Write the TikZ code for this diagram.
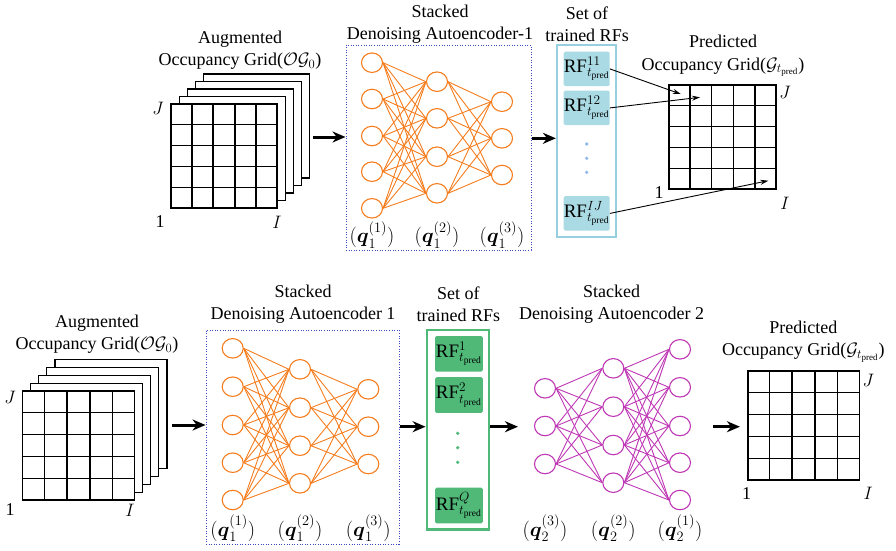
\documentclass[tikz,border=0pt]{standalone}
\usepackage{fix-cm}
\usepackage{amsmath}
\usepackage{amsfonts}
\usepackage{amssymb}
\usepackage{fontspec}
\setmainfont{Liberation Serif}
\usetikzlibrary{arrows.meta,calc,shapes.geometric}

\definecolor{nnorange}{RGB}{245,125,30}
\definecolor{nnpurple}{RGB}{190,55,180}
\definecolor{rfblue}{RGB}{170,218,228}
\definecolor{rfblueline}{RGB}{150,208,224}
\definecolor{rfgreen}{RGB}{80,185,120}
\definecolor{aeblue}{RGB}{60,70,200}

\begin{document}
\begin{tikzpicture}[x=1pt,y=-1pt,
  txt/.style={font=\fontsize{18}{22.5}\selectfont, align=center, inner sep=0pt},
  qlbl/.style={font=\fontsize{20.5}{22}\selectfont, inner sep=0pt},
  neuron/.style={ellipse, draw=#1, line width=1.1pt, minimum width=21pt, minimum height=19.5pt, inner sep=0pt},
  syn/.style={draw=#1, line width=0.9pt},
  sheet/.style={draw, fill=white, line width=1.2pt, inner sep=0pt},
  gridline/.style={line width=1.6pt},
  aebox/.style={draw=aeblue, line width=1pt, dash pattern=on 1pt off 1.6pt, inner sep=0pt},
  rfset/.style={draw=#1, line width=2.2pt, inner sep=0pt},
  rf/.style={fill=#1, rounded corners=1.5pt, minimum width=46pt, minimum height=34.5pt, inner sep=0pt, font=\fontsize{19}{20}\selectfont},
  flow/.style={-{Stealth[length=13pt,width=11pt]}, line width=3pt},
  pick/.style={-{Stealth[length=8pt,width=5pt]}, line width=0.9pt}]
\useasboundingbox (0,0) rectangle (896,550);

% top row
\node[txt] (ogttitle) at (240,50) {Augmented\\Occupancy Grid($\mathcal{O}\mathcal{G}_0$)};
\foreach \k in {4,3,2,1}
  \node[sheet, minimum width=106pt, minimum height=104pt] (ogt\k) at ({224+8.2*\k},{156-7.5*\k}) {};
\node[sheet, gridline, minimum width=106pt, minimum height=104pt] (ogt) at (224,156) {};
\node[txt] (ogtj) at (158,108) {$J$};
\node[txt] (ogt1) at (160,222) {1};
\node[txt] (ogti) at (277,222) {$I$};

\node[txt] (taetitle) at (440,24) {Stacked\\Denoising Autoencoder-1};
\node[aebox, minimum width=185pt, minimum height=205pt] (tae) at (438.5,147.5) {};
\foreach \y [count=\i] in {62.7,99,136,171.7,208.3}
  \node[neuron=nnorange] (ta\i) at (372,\y) {};
\foreach \y [count=\i] in {81.7,118.3,156.7,193.3}
  \node[neuron=nnorange] (tb\i) at (437,\y) {};
\foreach \y [count=\i] in {101.7,138.3,175}
  \node[neuron=nnorange] (tc\i) at (502,\y) {};
\foreach \i in {1,...,5} \foreach \j in {1,...,4}
  \draw[syn=nnorange] (ta\i.east) -- (tb\j.west);
\foreach \i in {1,...,4} \foreach \j in {1,...,3}
  \draw[syn=nnorange] (tb\i.east) -- (tc\j.west);
\node[qlbl] (tq1) at (372,235) {$(\boldsymbol{q}_1^{(1)})$};
\node[qlbl] (tq2) at (437,235) {$(\boldsymbol{q}_1^{(2)})$};
\node[qlbl] (tq3) at (502,235) {$(\boldsymbol{q}_1^{(3)})$};

\node[txt] (trftitle) at (587,24) {Set of\\trained RFs};
\node[rfset=rfblueline, minimum width=59pt, minimum height=192pt] (trf) at (586.5,141) {};
\node[rf=rfblue] (rf11) at (586.7,68.9) {RF$^{11}_{t_{\text{pred}}}$};
\node[rf=rfblue] (rf12) at (586.7,107.9) {RF$^{12}_{t_{\text{pred}}}$};
\node[rf=rfblue] (rfij) at (586.7,213.4) {RF$^{IJ}_{t_{\text{pred}}}$};
\foreach \y in {144,158.3,172.3}
  \fill[rfblue!85!blue] (586.7,\y) circle (1.8);

\node[txt] (pgttitle) at (723,56) {Predicted\\Occupancy Grid($\mathcal{G}_{t_{\text{pred}}}$)};
\node[sheet, gridline, minimum width=107pt, minimum height=104pt] (pgt) at (722.5,137) {};
\node[txt] (pgtj) at (785,92) {$J$};
\node[txt] (pgt1) at (659,193) {1};
\node[txt] (pgti) at (785,203) {$I$};

% bottom row
\node[txt] (ogbtitle) at (97,334) {Augmented\\Occupancy Grid($\mathcal{O}\mathcal{G}_0$)};
\foreach \k in {4,3,2,1}
  \node[sheet, minimum width=112pt, minimum height=109pt] (ogb\k) at ({78.5+8.1*\k},{445.5-7.8*\k}) {};
\node[sheet, gridline, minimum width=112pt, minimum height=109pt] (ogb) at (78.5,445.5) {};
\node[txt] (ogbj) at (10,397) {$J$};
\node[txt] (ogb1) at (10,510) {1};
\node[txt] (ogbi) at (130,510) {$I$};

\node[txt] (baetitle) at (303,304) {Stacked\\Denoising Autoencoder 1};
\node[aebox, minimum width=193pt, minimum height=214pt] (bae) at (302.5,437) {};
\foreach \y [count=\i] in {348.3,386.7,425,462.7,500}
  \node[neuron=nnorange] (ba\i) at (232.7,\y) {};
\foreach \y [count=\i] in {369.3,407.7,445.7,483.3}
  \node[neuron=nnorange] (bb\i) at (300,\y) {};
\foreach \y [count=\i] in {389.3,426.7,464}
  \node[neuron=nnorange] (bc\i) at (368.3,\y) {};
\foreach \i in {1,...,5} \foreach \j in {1,...,4}
  \draw[syn=nnorange] (ba\i.east) -- (bb\j.west);
\foreach \i in {1,...,4} \foreach \j in {1,...,3}
  \draw[syn=nnorange] (bb\i.east) -- (bc\j.west);
\node[qlbl] (bq1) at (232.7,528.3) {$(\boldsymbol{q}_1^{(1)})$};
\node[qlbl] (bq2) at (300,528.3) {$(\boldsymbol{q}_1^{(2)})$};
\node[qlbl] (bq3) at (368.3,528.3) {$(\boldsymbol{q}_1^{(3)})$};

\node[txt] (brftitle) at (458.3,304) {Set of\\trained RFs};
\node[rfset=rfgreen, minimum width=62.6pt, minimum height=199.5pt] (brf) at (458,429.8) {};
\node[rf=rfgreen, minimum width=47.7pt, minimum height=35.6pt] (rf1) at (458.9,353.9) {RF$^{1}_{t_{\text{pred}}}$};
\node[rf=rfgreen, minimum width=47.7pt, minimum height=35.6pt] (rf2) at (458.9,395) {RF$^{2}_{t_{\text{pred}}}$};
\node[rf=rfgreen, minimum width=47.7pt, minimum height=35.6pt] (rfq) at (458.9,505.5) {RF$^{Q}_{t_{\text{pred}}}$};
\foreach \y in {433.3,447.7,462.3}
  \fill[rfgreen] (457.7,\y) circle (1.8);

\node[txt] (daetitle) at (611.7,304) {Stacked\\Denoising Autoencoder 2};
\foreach \y [count=\i] in {388.3,426,464}
  \node[neuron=nnpurple] (da\i) at (545,\y) {};
\foreach \y [count=\i] in {368.3,406.7,445,482.7}
  \node[neuron=nnpurple] (db\i) at (613.3,\y) {};
\foreach \y [count=\i] in {349.3,387.3,426,462.7,500}
  \node[neuron=nnpurple] (dc\i) at (680,\y) {};
\foreach \i in {1,...,3} \foreach \j in {1,...,4}
  \draw[syn=nnpurple] (da\i.east) -- (db\j.west);
\foreach \i in {1,...,4} \foreach \j in {1,...,5}
  \draw[syn=nnpurple] (db\i.east) -- (dc\j.west);
\node[qlbl] (dq3) at (545,528.3) {$(\boldsymbol{q}_2^{(3)})$};
\node[qlbl] (dq2) at (613.3,528.3) {$(\boldsymbol{q}_2^{(2)})$};
\node[qlbl] (dq1) at (680,528.3) {$(\boldsymbol{q}_2^{(1)})$};

\node[txt] (pgbtitle) at (803.3,341.7) {Predicted\\Occupancy Grid($\mathcal{G}_{t_{\text{pred}}}$)};
\node[sheet, gridline, minimum width=111.6pt, minimum height=109pt] (pgb) at (803.5,425.5) {};
\node[txt] (pgbj) at (868.3,380) {$J$};
\node[txt] (pgb1) at (746.7,493.3) {1};
\node[txt] (pgbi) at (868.3,493.3) {$I$};

% grid cells
\foreach \g in {ogt,pgt,ogb,pgb}
  \foreach \k in {1,...,4} {
    \draw[gridline] ($(\g.north west)!\k/5!(\g.north east)$) -- ($(\g.south west)!\k/5!(\g.south east)$);
    \draw[gridline] ($(\g.north west)!\k/5!(\g.south west)$) -- ($(\g.north east)!\k/5!(\g.south east)$);
  }

% arrows
\coordinate (tin) at (313,137);
\coordinate (bin) at (172.3,425);
\draw[flow] (tin) -- (tin -| tae.west);
\draw[flow] (tae.east |- 0,138.3) -- (trf.west |- 0,138.3);
\draw[flow] (bin) -- (bin -| bae.west);
\draw[flow] (bae.east |- bc2) -- (brf.west |- bc2);
\draw[flow] (brf.east |- bc2) -- ([xshift=-16pt]da2.west |- bc2);
\draw[flow] ([xshift=22pt]dc3.east |- bc2) -- ([xshift=-7pt]pgb.west |- bc2);

\coordinate (cell11) at (680.7,94);
\coordinate (cell12) at (700,97.3);
\coordinate (cellij) at (768.3,180.7);
\draw[pick] (rf11.east) -- (cell11);
\draw[pick] (rf12.east) -- (cell12);
\draw[pick] (rfij.east) -- (cellij);
\end{tikzpicture}
\end{document}
